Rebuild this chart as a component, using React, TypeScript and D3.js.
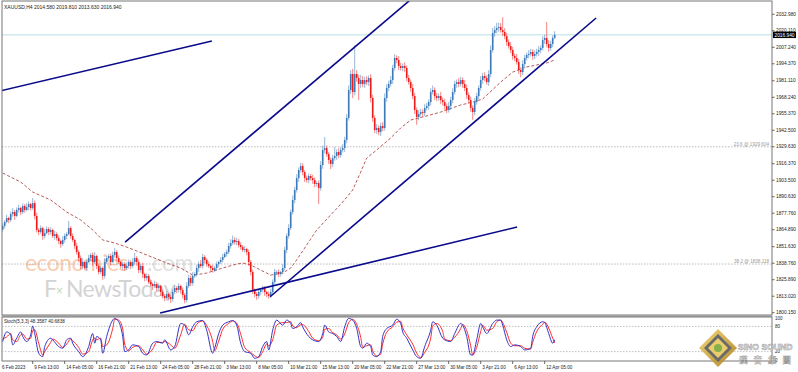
import React from 'react';
import * as d3 from 'd3';

// XAUUSD H4 closes, one per bar (6 Feb -> 12 Apr 2023)
const closes = [
  1867.8, 1870.9, 1874.0, 1872.5, 1877.1, 1878.7, 1875.6, 1880.3, 1881.8, 1878.7, 1883.4, 1880.3, 1882.6, 1884.9, 1881.8, 1885.7, 1875.6,
  1864.7, 1863.1, 1866.2, 1860.0, 1862.3, 1865.4, 1863.1, 1864.7, 1860.0, 1861.5, 1858.4, 1856.1, 1853.8, 1856.9, 1860.0, 1861.5, 1866.2,
  1860.0, 1856.9, 1852.2, 1847.5, 1842.8, 1836.6, 1839.7, 1835.0, 1839.7, 1842.8, 1845.2, 1839.7, 1844.4, 1836.6, 1831.9, 1835.0, 1828.8,
  1839.7, 1842.8, 1844.4, 1839.7, 1845.2, 1847.5, 1842.8, 1839.7, 1836.6, 1838.1, 1835.0, 1836.6, 1839.7, 1836.6, 1839.7, 1842.8, 1839.7,
  1833.4, 1836.6, 1830.3, 1827.2, 1828.8, 1824.1, 1822.5, 1821.0, 1822.5, 1819.4, 1821.0, 1816.3, 1813.2, 1811.6, 1814.7, 1812.4, 1810.8,
  1816.3, 1819.4, 1817.9, 1821.0, 1817.9, 1813.9, 1810.0, 1821.0, 1827.2, 1823.3, 1828.8, 1830.3, 1835.0, 1838.1, 1836.6, 1843.6, 1841.3,
  1838.1, 1836.6, 1835.0, 1833.4, 1835.0, 1838.1, 1839.7, 1841.3, 1843.6, 1846.0, 1847.5, 1852.2, 1854.5, 1856.9, 1855.3, 1856.1, 1853.0,
  1851.4, 1849.1, 1849.8, 1847.5, 1839.7, 1831.9, 1817.9, 1814.7, 1813.2, 1816.3, 1817.9, 1819.4, 1816.3, 1814.7, 1813.2, 1816.3, 1824.1,
  1831.9, 1831.9, 1830.3, 1831.9, 1835.0, 1849.1, 1860.0, 1866.2, 1878.7, 1888.1, 1895.9, 1905.2, 1911.5, 1914.6, 1909.9, 1905.2, 1903.7,
  1906.8, 1905.2, 1903.7, 1900.6, 1901.3, 1897.4, 1915.4, 1927.1, 1928.6, 1923.9, 1919.3, 1916.2, 1920.8, 1922.4, 1925.5, 1923.2, 1927.1,
  1928.6, 1934.9, 1952.1, 1973.9, 1986.4, 1972.3, 1986.4, 1983.3, 1978.6, 1981.7, 1978.6, 1981.7, 1980.1, 1983.3, 1967.7, 1952.1, 1942.7,
  1944.3, 1941.1, 1945.8, 1944.3, 1967.7, 1975.5, 1978.6, 1981.7, 1991.1, 1998.9, 1997.3, 1992.6, 1991.1, 1992.6, 1991.1, 1983.3, 1980.1,
  1975.5, 1969.2, 1958.3, 1952.8, 1955.2, 1956.7, 1956.0, 1959.9, 1961.4, 1964.5, 1972.3, 1973.9, 1969.2, 1967.7, 1969.2, 1966.1, 1964.5,
  1961.4, 1958.3, 1961.4, 1966.1, 1972.3, 1978.6, 1980.1, 1978.6, 1981.7, 1978.6, 1975.5, 1970.0, 1966.1, 1959.9, 1956.7, 1964.5, 1969.2,
  1975.5, 1981.7, 1984.8, 1983.3, 1980.1, 1986.4, 2005.1, 2018.4, 2020.7, 2022.3, 2023.1, 2020.7, 2019.2, 2016.0, 2011.4, 2008.2, 2005.1,
  2000.5, 1998.9, 1995.8, 1989.5, 1987.9, 1994.2, 1998.9, 2001.2, 2002.0, 2003.6, 2000.5, 2002.0, 2003.6, 2005.1, 2006.7, 2012.9, 2014.5,
  2009.8, 2006.7, 2009.8, 2014.58, 2016.94,
];
const firstOpen = 1865.0;

// upper / lower wick length above / below the body, $
const hiWick = [
  2, 1.5, 2.5, 1, 2, 3, 1.5, 2, 2.5, 1, 2, 1.5, 3, 2, 1, 3.9, 2,
  2.5, 1.5, 2, 1, 3, 2, 1.5, 2, 1, 2.5, 1.5, 2, 1, 3, 2, 1.5, 5.5,
  1.5, 2, 1, 2.5, 1.5, 2, 3, 1, 2, 2.5, 1.5, 2, 3, 1, 2, 1.5, 1,
  3, 2, 1.5, 2, 2.5, 3, 1.5, 2, 1, 2, 1.5, 2.5, 2, 1.5, 3, 4, 1.5,
  2, 1.5, 2.5, 1, 2, 1.5, 2, 1, 2.5, 1.5, 2, 1, 2, 1.5, 2.5, 1, 1.5,
  2, 2.5, 1.5, 2, 1, 2, 1.5, 3, 2.5, 2, 3, 1.5, 2.5, 2, 3, 2.5, 1.5,
  1.5, 2, 1, 2.5, 1.5, 2, 1, 2, 2.5, 1.5, 2, 2.5, 3, 3.5, 2, 2.5, 1.5,
  2, 1.5, 2.5, 1, 2, 1.5, 2, 1, 1.5, 2, 1, 2, 1.5, 1, 2, 2.5, 2,
  2.5, 1.5, 2, 1, 3, 2.5, 2, 3, 2, 3.5, 2.5, 3, 2, 2.5, 2, 1.5, 2,
  2, 1.5, 2.5, 2, 1.5, 2, 3, 3.5, 8.6, 2, 1.5, 2, 2.5, 7, 2, 3, 2.5,
  3, 2.5, 3, 3.5, 3, 4, 22.6, 3, 2.5, 4, 3, 2.5, 3, 2, 3, 2.5, 2,
  3, 2, 2.5, 3, 3.5, 3, 2.5, 3, 2.5, 3, 2, 3, 2.5, 2, 3, 2, 2.5,
  2, 3, 2.5, 2, 3, 2.5, 2, 3, 2.5, 2, 3, 3.5, 2, 2.5, 2, 3, 2,
  2.5, 2, 3, 2.5, 3, 2.5, 2, 3, 2.5, 2, 3, 2.5, 2, 2.5, 2, 3, 2.5,
  2, 3, 2.5, 3, 2, 3, 3.5, 4, 3, 4, 3.5, 3, 10, 3, 2.5, 2, 3,
  2.5, 2, 3, 2.5, 2, 3, 2.5, 2, 3, 2.5, 2, 3, 2.5, 3, 2, 3, 2.5,
  12.5, 3, 2.5, 2, 2.87,
];
const loWick = [
  1.5, 2, 1, 2.5, 1.5, 2, 3, 1, 2, 2.5, 1.5, 2, 1, 2.5, 2, 1.5, 2.5,
  2, 2.5, 1.5, 3, 2, 1, 2.5, 2, 1.5, 3, 2, 2.5, 3, 1.5, 2, 2.5, 1,
  2, 1.5, 2.5, 2, 3, 2.5, 2, 1.5, 2, 1, 2.5, 3, 1.5, 2.5, 2, 1.5, 3,
  2, 1.5, 2, 2.5, 1, 2, 2.5, 1.5, 2, 3, 2, 1.5, 2, 2.5, 1.5, 2, 3,
  2.5, 2, 3, 2.5, 2, 1.5, 2, 3, 1.5, 2.5, 2, 3, 2, 2.5, 1.5, 2, 3,
  2, 1.5, 2.5, 2, 3, 2.5, 2.5, 2, 1.5, 2.5, 2, 1.5, 2, 3, 1.5, 2, 2.5,
  2, 1.5, 2.5, 2, 1.5, 2, 2.5, 1.5, 2, 1, 2, 1.5, 2, 1.5, 2, 2.5, 2,
  2, 1.5, 2, 2.5, 3, 2.5, 3, 2.5, 3, 2, 2.5, 2, 3, 2.5, 2, 1.5, 2,
  1.5, 2, 2.5, 2, 1.5, 2, 2.5, 2, 1.5, 2, 2.5, 2, 3, 2, 2.5, 3, 2,
  2.5, 2, 3, 2.5, 2, 12.5, 2, 3, 2.5, 2, 3, 4, 2.5, 2, 3, 2.5, 2,
  2, 3, 2.5, 2, 3, 4.7, 2.5, 3, 12.5, 3, 2.5, 3, 2.5, 3, 3.5, 3, 2.5,
  3, 2.5, 3, 2.5, 2, 3, 2.5, 2, 3, 2, 2.5, 3, 2, 2.5, 3, 2.5, 2,
  3, 2.5, 3, 6, 2.5, 2, 3, 2.5, 2, 3, 2.5, 2, 3, 2.5, 2, 3, 2.5,
  3, 2.5, 2, 3, 2.5, 2, 3, 2.5, 2, 3, 2.5, 3, 2.5, 3, 6, 2.5, 2,
  2.5, 2, 3, 2.5, 2, 3, 2.5, 2, 3, 2.5, 3, 2, 3, 2.5, 3, 2, 2.5,
  3, 2.5, 2, 3, 4, 2.5, 3, 2, 2.5, 2, 3, 2.5, 2, 3, 2.5, 2, 3,
  2.5, 3, 2, 2.5, 0.95,
];

// moving average, read at these bars
const maBars = [0, 9, 15, 24, 32, 39, 45, 50, 56, 62, 72, 82, 89, 95, 99, 102, 110, 117, 120, 124, 129, 134, 140, 144, 147, 152, 157, 164, 170, 175, 179, 182, 187, 194, 199, 204, 210, 219, 229, 235, 240, 249, 255, 262, 272, 276];
const maValues = [1909.1, 1902.1, 1894.3, 1888.1, 1878.7, 1872.5, 1864.7, 1856.9, 1854.5, 1851.4, 1845.2, 1838.9, 1835.0, 1829.5, 1830.3, 1831.1, 1835.0, 1838.1, 1838.9, 1837.4, 1833.4, 1829.5, 1831.1, 1835.0, 1841.3, 1853.0, 1864.7, 1876.4, 1886.5, 1895.9, 1909.9, 1920.8, 1927.1, 1936.5, 1944.3, 1950.5, 1952.8, 1956.7, 1962.2, 1964.5, 1966.9, 1980.1, 1987.9, 1991.9, 1995.0, 1997.3];

// Stoch(5,3,3) main (%K) and signal (%D), read at these bars
const stochBars = [0, 2, 4, 5, 7, 9, 10, 12, 14, 15, 16, 18, 20, 21, 24, 25, 28, 30, 32, 34, 35, 38, 40, 43, 45, 46, 47, 49, 50, 52, 55, 56, 58, 60, 61, 63, 65, 68, 70, 72, 75, 77, 80, 81, 84, 86, 89, 91, 93, 95, 97, 100, 102, 105, 106, 108, 110, 113, 115, 117, 119, 121, 124, 126, 128, 130, 132, 133, 135, 137, 140, 142, 144, 145, 147, 149, 150, 153, 155, 158, 160, 161, 163, 165, 167, 169, 171, 173, 175, 177, 179, 180, 182, 184, 185, 187, 189, 190, 192, 195, 197, 199, 200, 202, 205, 207, 209, 211, 214, 215, 217, 220, 221, 224, 226, 229, 230, 232, 234, 235, 237, 239, 240, 242, 245, 247, 249, 250, 252, 254, 256, 259, 261, 264, 265, 267, 270, 271, 273, 275, 276];
const stochMain = [44, 67, 60, 36, 52, 67, 56, 44, 60, 81, 63, 16, 8, 32, 52, 48, 32, 28, 48, 52, 40, 20, 8, 32, 63, 40, 56, 48, 16, 56, 95, 99, 91, 56, 20, 24, 36, 32, 16, 12, 40, 44, 40, 48, 24, 32, 87, 83, 60, 79, 91, 94, 71, 16, 28, 63, 83, 91, 94, 83, 40, 20, 16, 4, 8, 32, 44, 24, 71, 95, 83, 95, 87, 75, 79, 89, 79, 56, 48, 44, 63, 83, 67, 63, 56, 44, 79, 99, 95, 75, 32, 28, 40, 32, 12, 8, 20, 56, 75, 83, 97, 87, 67, 52, 24, 8, 4, 32, 71, 91, 83, 52, 48, 44, 63, 87, 83, 56, 12, 12, 48, 87, 79, 63, 87, 95, 95, 83, 48, 32, 36, 32, 24, 28, 56, 79, 91, 89, 63, 40, 48.3587];
const stochSignal = [50, 55, 63, 48, 44, 60, 62, 50, 52, 70, 72, 40, 12, 20, 42, 50, 40, 30, 38, 50, 46, 30, 14, 20, 48, 52, 48, 52, 32, 36, 75, 97, 95, 74, 38, 22, 30, 34, 24, 14, 26, 42, 42, 44, 36, 28, 60, 85, 72, 70, 85, 93, 82, 44, 22, 45, 73, 87, 93, 88, 62, 30, 18, 10, 6, 20, 38, 34, 48, 83, 89, 89, 91, 81, 77, 84, 84, 68, 52, 46, 54, 73, 75, 65, 60, 50, 62, 89, 97, 85, 54, 30, 34, 36, 22, 10, 14, 38, 66, 79, 90, 92, 77, 60, 38, 16, 6, 18, 52, 81, 87, 68, 50, 46, 54, 75, 85, 70, 34, 12, 30, 68, 83, 71, 75, 91, 95, 89, 66, 40, 34, 34, 28, 26, 42, 68, 85, 90, 76, 52, 40.6838];

// trend lines drawn on the chart: [bar, price] pairs
const trendLines = [
  [[-1.4, 1973.1], [104.6, 2012.1]],
  [[61.2, 1855.3], [203.7, 2044.1]],
  [[133.7, 1812.6], [296.7, 2030.1]],
  [[78.7, 1799.9], [257.2, 1867.0]],
];

const priceTicks = ['2032.980', '2020.110', '2007.240', '1994.370', '1981.110', '1968.240', '1955.370', '1942.500', '1929.630', '1916.370', '1903.500', '1890.630', '1877.760', '1864.890', '1851.630', '1838.760', '1825.890', '1813.020', '1800.150'];
const timeTickLabels = ['9 Feb 13:00', '14 Feb 05:00', '16 Feb 21:00', '21 Feb 13:00', '24 Feb 05:00', '28 Feb 21:00', '3 Mar 13:00', '8 Mar 05:00', '10 Mar 21:00', '15 Mar 13:00', '20 Mar 05:00', '22 Mar 21:00', '27 Mar 13:00', '30 Mar 05:00', '3 Apr 21:00', '6 Apr 13:00', '12 Apr 05:00'];
const fibLevels = [
  { label: '23.6 @ 1929.604', price: 1929.604 },
  { label: '38.2 @ 1838.118', price: 1838.118 },
];
const bid = 2016.94;

export default function App() {
  const W = 798, H = 372;
  const left = 2, axisX = 772;
  const mainTop = 1, mainBottom = 315, stTop = 317, stBottom = 361;

  const x = d3.scaleLinear().domain([0, closes.length - 1]).range([2.7, 554.7]);
  const y = d3.scaleLinear().domain([1800.15, 2032.98]).range([312.7, 14.3]);
  const ys = d3.scaleLinear().domain([0, 100]).range([360, 318]);

  const bars = closes.map((c, i) => {
    const o = i === 0 ? firstOpen : closes[i - 1];
    return { i, o, c, h: Math.max(o, c) + hiWick[i], l: Math.min(o, c) - loWick[i] };
  });

  const maLine = d3.line<number>().x((_, k) => x(maBars[k])).y(d => y(d));
  const stLine = d3.line<number>().x((_, k) => x(stochBars[k])).y(d => ys(d)).curve(d3.curveMonotoneX);

  const font = 'Liberation Sans, DejaVu Sans, sans-serif';
  const bull = '#3f7ab8';
  const bear = '#f01c1c';

  return (
    <svg width={W} height={H} style={{ display: 'block', position: 'absolute', left: 0, top: 0 }} fontFamily={font}>
      <style>{'body{margin:0}'}</style>
      <rect width={W} height={H} fill="#fff" />
      <defs>
        <clipPath id="mainClip"><rect x={left} y={mainTop} width={axisX - left} height={mainBottom - mainTop} /></clipPath>
        <linearGradient id="gold" x1="0" y1="0" x2="1" y2="1">
          <stop offset="0" stopColor="#f2d46a" />
          <stop offset="1" stopColor="#a87a18" />
        </linearGradient>
      </defs>

      {/* watermark */}
      <g opacity={0.5}>
        <text x={25} y={271} fontSize={23} fill="#f59a60" fontFamily="Lato, sans-serif" letterSpacing={-0.6}>economies</text>
        <text x={147} y={271} fontSize={23} fill="#c4c4c4" fontFamily="Lato, sans-serif" letterSpacing={-0.6}>.com</text>
        <text x={44} y={297} fontSize={23} fill="#a8a8a8" fontFamily="Lato, sans-serif">F</text>
        <text x={56} y={295} fontSize={12} fill="#7fb86a">×</text>
        <text x={66} y={297} fontSize={23} fill="#a8a8a8" fontFamily="Lato, sans-serif" letterSpacing={-0.6}>NewsToday</text>
      </g>

      {/* fib levels */}
      {fibLevels.map(f => (
        <g key={f.label}>
          <line x1={left} x2={axisX} y1={y(f.price)} y2={y(f.price)} stroke="#a8a8a8" strokeDasharray="1.5,1.5" strokeWidth={0.8} />
          <text x={axisX - 3} y={y(f.price) - 1} fontSize={4.6} textAnchor="end" fill="#999">{f.label}</text>
        </g>
      ))}

      {/* bid line */}
      <line x1={left} x2={axisX} y1={y(bid)} y2={y(bid)} stroke="#b8dfe6" strokeWidth={1} />

      <g clipPath="url(#mainClip)">
        {/* MA */}
        <path d={maLine(maValues) || ''} fill="none" stroke="#b04a4a" strokeWidth={0.9} strokeDasharray="3,2" />

        {/* candles */}
        {bars.map(b => {
          const col = b.c >= b.o ? bull : bear;
          const top = y(Math.max(b.o, b.c));
          const bot = y(Math.min(b.o, b.c));
          return (
            <g key={b.i}>
              <line x1={x(b.i)} x2={x(b.i)} y1={y(b.h)} y2={y(b.l)} stroke={col} strokeWidth={0.9} opacity={0.6} />
              <rect x={x(b.i) - 0.8} y={top} width={1.6} height={Math.max(0.8, bot - top)} fill={col} />
            </g>
          );
        })}

        {/* trend lines */}
        {trendLines.map((t, k) => (
          <line key={k} x1={x(t[0][0])} y1={y(t[0][1])} x2={x(t[1][0])} y2={y(t[1][1])} stroke="#0a0a8c" strokeWidth={1.6} />
        ))}
      </g>

      {/* header */}
      <text x={4} y={8.5} fontSize={5} fill="#222">XAUUSD,H4  2014.580 2019.810 2013.630 2016.940</text>

      {/* panel frames */}
      <rect x={left} y={mainTop} width={axisX - left} height={mainBottom - mainTop} fill="none" stroke="#777" strokeWidth={1} />
      <line x1={left} x2={axisX} y1={mainBottom + 1} y2={mainBottom + 1} stroke="#999" strokeWidth={1.5} />
      <rect x={left} y={stTop} width={axisX - left} height={stBottom - stTop} fill="none" stroke="#777" strokeWidth={1} />

      {/* price axis */}
      {priceTicks.map(t => (
        <g key={t}>
          <line x1={axisX} x2={axisX + 2.5} y1={y(+t)} y2={y(+t)} stroke="#444" strokeWidth={0.8} />
          <text x={axisX + 4} y={y(+t) + 1.7} fontSize={4.8} fill="#222">{t}</text>
        </g>
      ))}
      <rect x={axisX + 1} y={y(bid) - 3.2} width={23} height={6.4} fill="#000" />
      <text x={axisX + 2.5} y={y(bid) + 1.7} fontSize={4.8} fill="#fff">{bid.toFixed(3)}</text>

      {/* stochastic */}
      {[80, 20].map(v => (
        <line key={v} x1={left} x2={axisX} y1={ys(v)} y2={ys(v)} stroke="#b0b0b0" strokeDasharray="1.5,1.5" strokeWidth={0.8} />
      ))}
      <path d={stLine(stochSignal) || ''} fill="none" stroke="#ff2a2a" strokeWidth={1} />
      <path d={stLine(stochMain) || ''} fill="none" stroke="#3232c8" strokeWidth={1} />
      <text x={4} y={322.5} fontSize={4.6} fill="#222">Stoch(5,3,3) 48.3587 40.6838</text>
      {[100, 80, 20, 0].map(v => (
        <text key={v} x={axisX + 3} y={ys(v) + 1.7} fontSize={4.5} fill="#222">{v}</text>
      ))}

      {/* time axis */}
      <text x={2} y={368.5} fontSize={4.6} fill="#222">6 Feb 2023</text>
      {timeTickLabels.map((t, k) => {
        const xi = x(15 + 16 * k);
        return (
          <g key={t}>
            <line x1={xi} x2={xi} y1={stBottom} y2={stBottom + 3} stroke="#444" strokeWidth={0.8} />
            <text x={xi + 1.5} y={368.5} fontSize={4.6} fill="#222">{t}</text>
          </g>
        );
      })}

      {/* logo */}
      <g opacity={0.9}>
        <polygon points="718,329 737,348 718,367 699,348" fill="url(#gold)" />
        <polygon points="718,334 732,348 718,362 704,348" fill="#5a5a5a" />
        <polygon points="718,338 728,348 718,358 708,348" fill="#e6c85a" />
        <circle cx={718} cy={348} r={4} fill="#7aa83a" />
        <text x={738} y={350} fontSize={8.6} fontWeight="bold" fill="#f2f2f2" stroke="#8a8a8a" strokeWidth={0.5}>SINO SOUND</text>
        <text x={739} y={363} fontSize={8.5} fontWeight="bold" fill="#eeeeee" stroke="#8a8a8a" strokeWidth={0.4} letterSpacing={6} fontFamily="Noto Sans CJK TC, sans-serif">漢音集團</text>
      </g>
    </svg>
  );
}
